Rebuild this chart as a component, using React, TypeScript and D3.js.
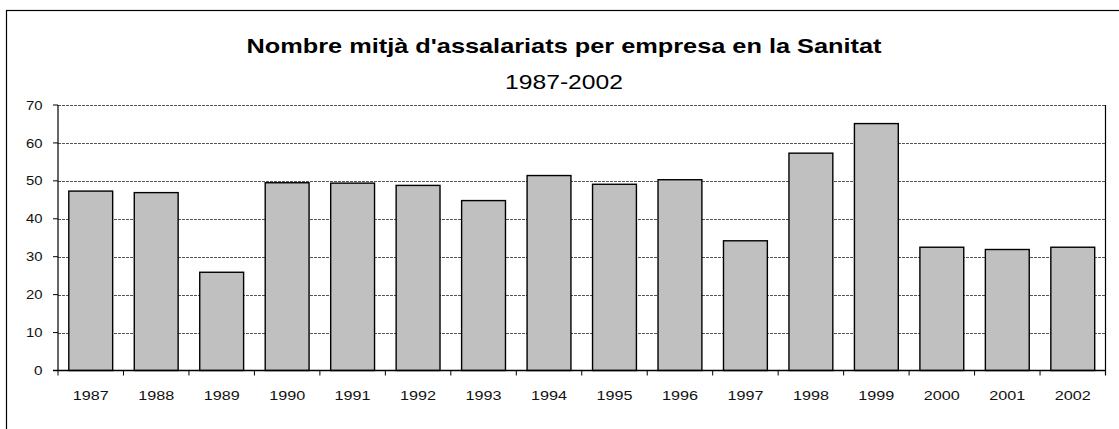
import React from "react";
import * as d3 from "d3";

const years = ["1987","1988","1989","1990","1991","1992","1993","1994","1995","1996","1997","1998","1999","2000","2001","2002"];
const values = [47.3, 46.9, 25.9, 49.5, 49.4, 48.8, 44.8, 51.4, 49.1, 50.3, 34.2, 57.3, 65.1, 32.5, 31.9, 32.5];
const yTicks = [0, 10, 20, 30, 40, 50, 60, 70];
const title = "Nombre mitjà d'assalariats per empresa en la Sanitat";
const subtitle = "1987-2002";

const W = 1119, H = 429;
const left = 58, right = 1105.5, top = 105, bottom = 370.5;

export default function App() {
  const x = d3.scaleBand<string>().domain(years).range([left, right]).paddingInner(0.33).paddingOuter(0.165);
  const xb = d3.scaleBand<string>().domain(years).range([left, right]);
  const y = d3.scaleLinear().domain([0, 70]).range([bottom, top]);
  const font = "Arial, 'Liberation Sans', sans-serif";
  return (
    <svg width={W} height={H} style={{ position: "absolute", left: 0, top: 0 }} fontFamily={font}>
      <rect x={0} y={0} width={W} height={H} fill="#fff" />
      <rect x={6.5} y={10.5} width={W + 20} height={H + 20} fill="none" stroke="#000" strokeWidth={1.2} />
      <text x={564} y={52.5} textAnchor="middle" fontSize={21} fontWeight="bold" textLength={635} lengthAdjust="spacingAndGlyphs">{title}</text>
      <text x={564} y={89} textAnchor="middle" fontSize={21} textLength={118} lengthAdjust="spacingAndGlyphs">{subtitle}</text>
      {yTicks.filter(t => t > 0).map(t => (
        <line key={"g" + t} x1={left} x2={right} y1={Math.round(y(t)) + 0.5} y2={Math.round(y(t)) + 0.5} stroke="#555" strokeWidth={1} strokeDasharray="3,1" />
      ))}
      <line x1={right} x2={right} y1={y(70)} y2={bottom + 5} stroke="#000" strokeWidth={1.2} />
      {years.map((yr, i) => (
        <rect key={yr} x={x(yr)!} y={y(values[i])} width={x.bandwidth()} height={bottom - y(values[i])} fill="#c0c0c0" stroke="#000" strokeWidth={1.4} />
      ))}
      <line x1={left} x2={left} y1={y(70)} y2={bottom} stroke="#000" strokeWidth={1.2} />
      <line x1={left - 5} x2={right} y1={bottom} y2={bottom} stroke="#000" strokeWidth={1.4} />
      {yTicks.map(t => (
        <g key={"y" + t}>
          <line x1={left - 5} x2={left} y1={y(t)} y2={y(t)} stroke="#000" />
          <text x={42.5} y={y(t) + 4.6} textAnchor="end" fontSize={13} textLength={t === 0 ? 8.5 : 16.5} lengthAdjust="spacingAndGlyphs" fill="#111">{t}</text>
        </g>
      ))}
      {years.map(yr => (
        <line key={"t" + yr} x1={xb(yr)!} x2={xb(yr)!} y1={bottom} y2={bottom + 5} stroke="#000" />
      ))}
      {years.map(yr => (
        <text key={"l" + yr} x={xb(yr)! + xb.bandwidth() / 2} y={400} textAnchor="middle" fontSize={13.5} textLength={36} lengthAdjust="spacingAndGlyphs" fill="#111">{yr}</text>
      ))}
    </svg>
  );
}
